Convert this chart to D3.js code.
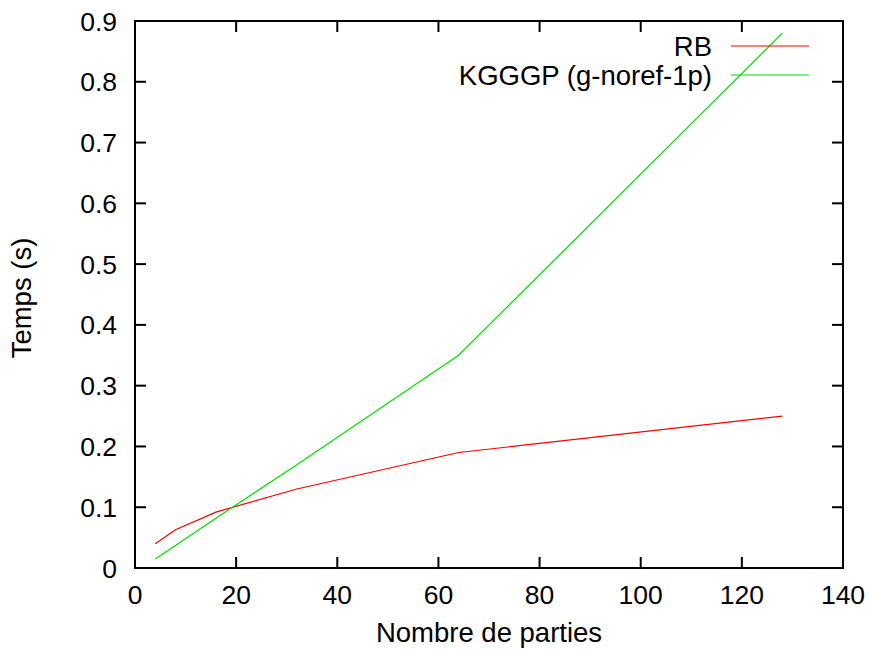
<!DOCTYPE html>
<html><head><meta charset="utf-8">
<script src="https://cdn.jsdelivr.net/npm/d3@7"></script>
<style>body{margin:0;background:#fff}svg{display:block}</style>
</head><body>
<svg id="c" width="869" height="650"></svg>
<script>
const xValues = [4, 8, 16, 32, 64, 128];
const rbValues = [0.04, 0.063, 0.092, 0.13, 0.19, 0.25];
const kgggpValues = [0.015, 0.037, 0.082, 0.17, 0.35, 0.88];
const seriesNames = ["RB", "KGGGP (g-noref-1p)"];
const seriesColors = ["#ff0000", "#00e000"];
const xTicks = [0, 20, 40, 60, 80, 100, 120, 140];
const yTicks = [0, 0.1, 0.2, 0.3, 0.4, 0.5, 0.6, 0.7, 0.8, 0.9];

const L = 135, R = 843, T = 21, B = 568;
const svg = d3.select("#c");
const font = "'Liberation Sans', Arial, sans-serif";
const x = d3.scaleLinear().domain([0, 140]).range([L, R]);
const y = d3.scaleLinear().domain([0, 0.9]).range([B, T]);
const tl = 11;

// ticks (inward, mirrored)
const g = svg.append("g").attr("stroke", "#000").attr("stroke-width", 2);
xTicks.forEach(v => {
  g.append("line").attr("x1", x(v)).attr("x2", x(v)).attr("y1", B).attr("y2", B - tl);
  g.append("line").attr("x1", x(v)).attr("x2", x(v)).attr("y1", T).attr("y2", T + tl);
});
yTicks.forEach(v => {
  g.append("line").attr("x1", L).attr("x2", L + tl).attr("y1", y(v)).attr("y2", y(v));
  g.append("line").attr("x1", R).attr("x2", R - tl).attr("y1", y(v)).attr("y2", y(v));
});

// labels
const fs = 26.5, fs2 = 27.5;
xTicks.forEach(v => {
  svg.append("text").attr("x", x(v)).attr("y", 604).attr("text-anchor", "middle")
    .attr("font-family", font).attr("font-size", fs).text(v);
});
yTicks.forEach(v => {
  svg.append("text").attr("x", 117).attr("y", y(v) + 9.5).attr("text-anchor", "end")
    .attr("font-family", font).attr("font-size", fs).text(v === 0 ? "0" : d3.format(".1f")(v));
});
svg.append("text").attr("x", 489).attr("y", 642).attr("text-anchor", "middle")
  .attr("font-family", font).attr("font-size", fs2).text("Nombre de parties");
svg.append("text").attr("transform", "translate(31,298) rotate(-90)").attr("text-anchor", "middle")
  .attr("font-family", font).attr("font-size", fs2).text("Temps (s)");

// lines
const line = d3.line().x((d, i) => x(xValues[i])).y(d => y(d));
[rbValues, kgggpValues].forEach((vals, i) => {
  svg.append("path").attr("d", line(vals)).attr("fill", "none")
    .attr("stroke", seriesColors[i]).attr("stroke-width", 1.2);
});

// legend
const legY = [46, 75];
seriesNames.forEach((n, i) => {
  svg.append("text").attr("x", 712).attr("y", legY[i] + 9.5).attr("text-anchor", "end")
    .attr("font-family", font).attr("font-size", fs2).text(n);
  svg.append("line").attr("x1", 731).attr("x2", 809).attr("y1", legY[i]).attr("y2", legY[i])
    .attr("stroke", seriesColors[i]).attr("stroke-width", 1.2);
});

// frame
svg.append("rect").attr("x", L).attr("y", T).attr("width", R - L).attr("height", B - T)
  .attr("fill", "none").attr("stroke", "#000").attr("stroke-width", 2);
</script>
</body></html>
